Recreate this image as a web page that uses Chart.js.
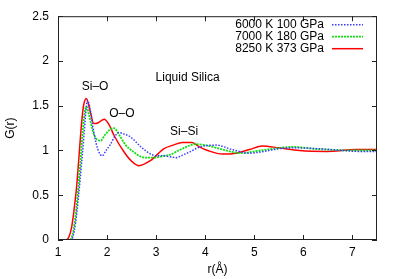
<!DOCTYPE html>
<html>
<head>
<meta charset="utf-8">
<script src="https://cdn.jsdelivr.net/npm/chart.js@4"></script>
<style>
  html, body { margin: 0; padding: 0; background: #fff; }
  #wrap { width: 399px; height: 279px; }
</style>
</head>
<body>
<div id="wrap"><canvas id="chart" width="399" height="279"></canvas></div>
<script>
// tick labels
const xTicks = [1, 2, 3, 4, 5, 6, 7];
const yTicks = [0, 0.5, 1, 1.5, 2, 2.5];

// 6000 K 100 GPa
const r6000 = [1.0, 1.25, 1.3, 1.36, 1.42, 1.48, 1.53, 1.57, 1.6, 1.64, 1.73, 1.82, 1.9, 1.98, 2.07, 2.16, 2.24, 2.36, 2.48, 2.69, 2.89, 3.0, 3.16, 3.4, 3.55, 3.67, 3.9, 4.22, 4.55, 4.9, 5.2, 5.5, 5.8, 6.3, 6.8, 7.1, 7.5];
const g6000 = [0, 0, 0.03, 0.2, 0.5, 0.85, 1.17, 1.45, 1.56, 1.5, 1.2, 1.0, 0.94, 1.0, 1.07, 1.16, 1.2, 1.18, 1.15, 1.04, 0.96, 0.94, 0.94, 0.92, 0.95, 0.98, 1.04, 1.06, 1.01, 0.97, 0.99, 1.02, 1.03, 1.02, 1.0, 0.99, 0.99];

// 7000 K 180 GPa
const r7000 = [1.0, 1.22, 1.28, 1.34, 1.4, 1.46, 1.51, 1.55, 1.58, 1.63, 1.72, 1.8, 1.87, 1.95, 2.05, 2.14, 2.25, 2.38, 2.55, 2.69, 2.85, 2.96, 3.16, 3.27, 3.53, 3.81, 4.0, 4.29, 4.5, 4.76, 5.0, 5.4, 5.78, 6.2, 6.47, 7.0, 7.5];
const g7000 = [0, 0, 0.03, 0.2, 0.5, 0.9, 1.25, 1.45, 1.49, 1.4, 1.2, 1.12, 1.11, 1.17, 1.23, 1.25, 1.17, 1.06, 0.98, 0.93, 0.92, 0.92, 0.94, 0.95, 1.02, 1.07, 1.06, 1.02, 0.99, 0.97, 0.99, 1.02, 1.04, 1.02, 1.01, 1.0, 1.0];

// 8250 K 373 GPa
const r8250 = [1.0, 1.15, 1.22, 1.28, 1.33, 1.38, 1.43, 1.48, 1.52, 1.58, 1.65, 1.73, 1.82, 1.94, 2.04, 2.14, 2.35, 2.5, 2.65, 2.89, 3.16, 3.35, 3.53, 3.73, 3.88, 4.05, 4.35, 4.63, 4.9, 5.16, 5.5, 5.92, 6.47, 7.08, 7.5];
const g8250 = [0, 0, 0.03, 0.15, 0.35, 0.6, 0.95, 1.3, 1.5, 1.58, 1.45, 1.3, 1.31, 1.35, 1.29, 1.17, 0.98, 0.88, 0.83, 0.89, 1.02, 1.06, 1.09, 1.09, 1.04, 1.0, 0.96, 0.97, 1.01, 1.05, 1.03, 1.0, 0.99, 1.01, 1.01];

const notes = [
  { text: "Si\u2013O", r: 1.755, g: 1.71 },
  { text: "O\u2013O", r: 2.3, g: 1.41 },
  { text: "Si\u2013Si", r: 3.57, g: 1.21 },
  { text: "Liquid Silica", r: 3.64, g: 1.81 },
];

const FONT = "'Liberation Sans', Arial, sans-serif";
Chart.defaults.color = "#000";
Chart.defaults.font.family = FONT;
Chart.defaults.font.size = 12;

function toPoints(xs, ys) {
  return xs.map((x, i) => ({ x, y: ys[i] }));
}

// gnuplot-ish frame with inward ticks on all four sides, plus notes and legend
const framePlugin = {
  id: "frame",
  afterDatasetsDraw(chart) {
    const { ctx, chartArea: a, scales } = chart;
    ctx.save();
    ctx.strokeStyle = "#222";
    ctx.lineWidth = 1;
    ctx.strokeRect(a.left + 0.5, a.top + 0.5, a.right - a.left - 1, a.bottom - a.top - 1);
    const tl = 5;
    ctx.beginPath();
    xTicks.forEach((v) => {
      const px = Math.round(scales.x.getPixelForValue(v)) + 0.5;
      ctx.moveTo(px, a.bottom);
      ctx.lineTo(px, a.bottom - tl);
      ctx.moveTo(px, a.top);
      ctx.lineTo(px, a.top + tl);
    });
    yTicks.forEach((v) => {
      const py = Math.round(scales.y.getPixelForValue(v)) + 0.5;
      ctx.moveTo(a.left, py);
      ctx.lineTo(a.left + tl, py);
      ctx.moveTo(a.right, py);
      ctx.lineTo(a.right - tl, py);
    });
    ctx.stroke();

    ctx.font = `12px ${FONT}`;
    ctx.fillStyle = "#000";
    ctx.textAlign = "center";
    ctx.textBaseline = "middle";
    notes.forEach((n) => {
      ctx.fillText(n.text, scales.x.getPixelForValue(n.r), scales.y.getPixelForValue(n.g));
    });

    // key, top right
    ctx.textAlign = "right";
    chart.data.datasets.forEach((ds, i) => {
      const y = a.top + 8.5 + i * 12;
      ctx.fillStyle = "#000";
      ctx.fillText(ds.label, a.right - 53, y);
      ctx.beginPath();
      ctx.strokeStyle = ds.borderColor;
      ctx.lineWidth = ds.borderWidth;
      ctx.setLineDash(ds.borderDash || []);
      ctx.moveTo(a.right - 45, y);
      ctx.lineTo(a.right - 14, y);
      ctx.stroke();
      ctx.setLineDash([]);
    });
    ctx.restore();
  },
};

new Chart(document.getElementById("chart"), {
  type: "line",
  data: {
    datasets: [
      {
        label: "6000 K 100 GPa",
        data: toPoints(r6000, g6000),
        borderColor: "#3a3aff",
        borderWidth: 1.5,
        borderDash: [1.5, 1.5],
      },
      {
        label: "7000 K 180 GPa",
        data: toPoints(r7000, g7000),
        borderColor: "#10e010",
        borderWidth: 1.8,
        borderDash: [2, 1],
      },
      {
        label: "8250 K 373 GPa",
        data: toPoints(r8250, g8250),
        borderColor: "#ff0000",
        borderWidth: 1.5,
      },
    ],
  },
  options: {
    responsive: false,
    animation: false,
    cubicInterpolationMode: "monotone",
    pointRadius: 0,
    layout: { padding: { left: 0, top: 14, right: 22, bottom: 0 } },
    plugins: { legend: { display: false }, tooltip: { enabled: false } },
    scales: {
      x: {
        type: "linear",
        min: 1,
        max: 7.5,
        grid: { display: false, drawTicks: false },
        border: { display: false },
        ticks: { padding: 5, font: { size: 12 }, callback: (v) => String(v) },
        afterBuildTicks: (s) => { s.ticks = xTicks.map((v) => ({ value: v })); },
        afterFit: (s) => { s.height = 39; },
        title: { display: true, text: "r(\u00c5)", padding: { top: 0, bottom: 2.5 }, font: { size: 12 } },
      },
      y: {
        type: "linear",
        min: 0,
        max: 2.5,
        grid: { display: false, drawTicks: false },
        border: { display: false },
        ticks: { padding: 9, font: { size: 12 }, callback: (v) => String(v) },
        afterBuildTicks: (s) => { s.ticks = yTicks.map((v) => ({ value: v })); },
        afterFit: (s) => { s.width = 58; },
        title: { display: true, text: "G(r)", padding: { top: 3.5, bottom: 0 }, font: { size: 12 } },
      },
    },
  },
  plugins: [framePlugin],
});
</script>
</body>
</html>
